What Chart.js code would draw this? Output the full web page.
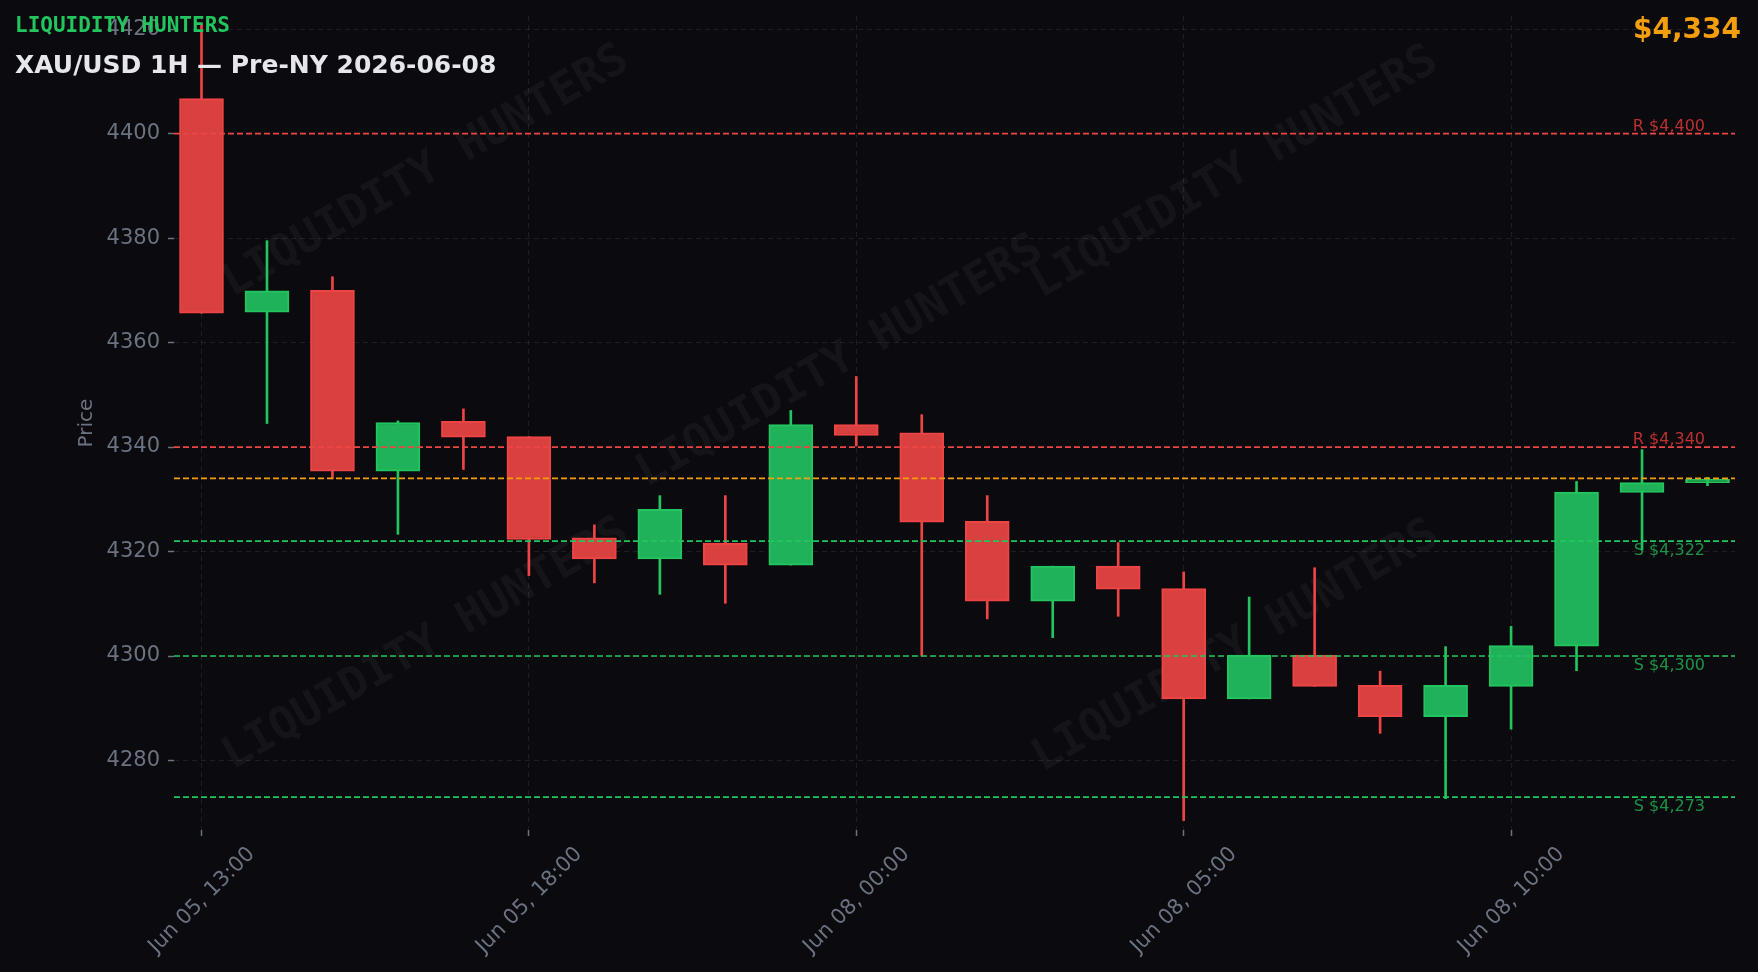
<!DOCTYPE html>
<html>
<head>
<meta charset="utf-8">
<title>XAU/USD 1H — Pre-NY 2026-06-08</title>
<script src="https://cdn.jsdelivr.net/npm/chart.js@4.4.1/dist/chart.umd.min.js"></script>
<style>
  html, body { margin: 0; padding: 0; background: #0a0a0f; overflow: hidden; }
  #wrap { position: relative; width: 1758px; height: 972px; }
  #wrap canvas { position: absolute; left: 0; top: 0; }
  .overlay { position: absolute; white-space: nowrap; font-weight: bold; }
  #brand { left: 15px; top: 15px; font: bold 21px/21px 'DejaVu Sans Mono', monospace; color: #22c55e; }
  #title { left: 15px; top: 52px; font: bold 25px/25px 'DejaVu Sans', sans-serif; color: #e5e7eb; }
  #price { right: 17px; top: 15px; font: bold 28px/28px 'DejaVu Sans', sans-serif; color: #f59e0b; }
</style>
</head>
<body>
<div id="wrap">
  <canvas id="chart" width="1758" height="972"></canvas>
  <div class="overlay" id="brand">LIQUIDITY HUNTERS</div>
  <div class="overlay" id="title">XAU/USD 1H — Pre-NY 2026-06-08</div>
  <div class="overlay" id="price">$4,334</div>
</div>
<script>
'use strict';

// ------- Data ------- //
const times = [
  '2026-06-05T13:00', '2026-06-05T14:00', '2026-06-05T15:00', '2026-06-05T16:00',
  '2026-06-05T17:00', '2026-06-05T18:00', '2026-06-05T19:00', '2026-06-05T20:00',
  '2026-06-05T21:00', '2026-06-07T23:00', '2026-06-08T00:00', '2026-06-08T01:00',
  '2026-06-08T02:00', '2026-06-08T03:00', '2026-06-08T04:00', '2026-06-08T05:00',
  '2026-06-08T06:00', '2026-06-08T07:00', '2026-06-08T08:00', '2026-06-08T09:00',
  '2026-06-08T10:00', '2026-06-08T11:00', '2026-06-08T12:00', '2026-06-08T13:00',
];
const opens = [
  4406.7, 4365.8, 4370.0, 4335.4, 4344.9, 4342.0, 4322.6, 4318.6,
  4321.6, 4317.4, 4344.3, 4342.7, 4325.8, 4310.5, 4317.2, 4312.9,
  4291.8, 4300.2, 4294.4, 4288.4, 4294.2, 4301.9, 4331.3, 4333.2,
];
const highs = [
  4421.0, 4379.5, 4372.6, 4345.0, 4347.3, 4342.0, 4325.1, 4330.7,
  4330.7, 4347.0, 4353.5, 4346.2, 4330.7, 4317.2, 4321.7, 4316.1,
  4311.3, 4316.9, 4297.1, 4301.8, 4305.7, 4333.4, 4339.5, 4334.2,
];
const lows = [
  4365.6, 4344.5, 4333.9, 4323.3, 4335.7, 4315.4, 4314.0, 4311.8,
  4310.1, 4317.4, 4340.2, 4300.0, 4307.1, 4303.5, 4307.6, 4268.5,
  4291.8, 4294.2, 4285.2, 4272.7, 4286.0, 4297.2, 4320.3, 4332.6,
];
const closes = [
  4365.6, 4369.9, 4335.4, 4344.7, 4341.9, 4322.3, 4318.6, 4328.1,
  4317.4, 4344.3, 4342.2, 4325.6, 4310.5, 4317.2, 4312.8, 4291.8,
  4300.2, 4294.2, 4288.4, 4294.4, 4302.0, 4331.4, 4333.2, 4333.8,
];

const resistanceLevels = [4400, 4340];
const supportLevels = [4322, 4300, 4273];
const currentPrice = 4334;

const priceTicks = [4280, 4300, 4320, 4340, 4360, 4380, 4400, 4420];
const timeTickIndexes = [0, 5, 10, 15, 20];

const months = ['Jan', 'Feb', 'Mar', 'Apr', 'May', 'Jun', 'Jul', 'Aug', 'Sep', 'Oct', 'Nov', 'Dec'];

// ------- Colours ------- //
const RED = '#ef4444';
const GREEN = '#22c55e';
const RED_FILL = '#d94040';
const GREEN_FILL = '#20b25a';
const ORANGE = '#f59e0b';
const TICK_GREY = '#6b7280';
const GRID = 'rgba(255,255,255,0.085)';

const X_MIN = -0.42;
const X_MAX = 23.42;

function formatTime(t) {
  const [day, hm] = t.split('T');
  const parts = day.split('-');
  return months[parseInt(parts[1], 10) - 1] + ' ' + parts[2] + ', ' + hm;
}

const isUp = opens.map((o, i) => closes[i] >= o);

// wicks (high-low) and bodies (open-close) as floating bars
const wickData = times.map((t, i) => ({ x: i, y: [lows[i], highs[i]] }));
const bodyData = times.map((t, i) => ({ x: i, y: [opens[i], closes[i]] }));

function levelLine(level, color, label) {
  return {
    type: 'line',
    label: label,
    data: [{ x: X_MIN, y: level }, { x: X_MAX, y: level }],
    borderColor: color,
    borderWidth: 1.7,
    borderDash: [6, 3],
    pointRadius: 0,
    order: 0,
  };
}

const levelDatasets = [
  ...resistanceLevels.map((lv) => levelLine(lv, RED, 'R')),
  levelLine(currentPrice, ORANGE, 'Current'),
  ...supportLevels.map((lv) => levelLine(lv, GREEN, 'S')),
];

// ------- Watermark + level labels ------- //
const watermarkPlugin = {
  id: 'watermark',
  beforeDatasetsDraw(chart) {
    const ctx = chart.ctx;
    const spots = [[426, 172], [840, 362], [1235, 173], [426, 645], [1236, 647]];
    ctx.save();
    ctx.beginPath();
    ctx.rect(chart.chartArea.left, chart.chartArea.top, chart.chartArea.width, chart.chartArea.height);
    ctx.clip();
    ctx.font = "bold 45px 'DejaVu Sans Mono', monospace";
    ctx.fillStyle = 'rgba(255,255,255,0.045)';
    ctx.textAlign = 'center';
    ctx.textBaseline = 'middle';
    spots.forEach(([x, y]) => {
      ctx.save();
      ctx.translate(x, y);
      ctx.rotate(-Math.PI / 6);
      ctx.fillText('LIQUIDITY HUNTERS', 0, 0);
      ctx.restore();
    });
    ctx.restore();
  },
};

const levelLabelPlugin = {
  id: 'levelLabels',
  afterDatasetsDraw(chart) {
    const ctx = chart.ctx;
    const yScale = chart.scales.y;
    const x = chart.chartArea.right - 30;
    ctx.save();
    ctx.font = "16px 'DejaVu Sans', sans-serif";
    ctx.textAlign = 'right';
    resistanceLevels.forEach((lv) => {
      ctx.fillStyle = 'rgba(220,55,55,0.85)';
      ctx.textBaseline = 'bottom';
      ctx.fillText('R $' + lv.toLocaleString('en-US'), x, yScale.getPixelForValue(lv) + 1);
    });
    supportLevels.forEach((lv) => {
      ctx.fillStyle = 'rgba(34,180,85,0.8)';
      ctx.textBaseline = 'top';
      ctx.fillText('S $' + lv.toLocaleString('en-US'), x, yScale.getPixelForValue(lv) + 2);
    });
    ctx.restore();
  },
};

Chart.defaults.font.family = "'DejaVu Sans', sans-serif";

new Chart(document.getElementById('chart'), {
  data: {
    datasets: [
      ...levelDatasets,
      {
        type: 'bar',
        label: 'Body',
        data: bodyData,
        backgroundColor: isUp.map((u) => (u ? GREEN_FILL : RED_FILL)),
        borderColor: isUp.map((u) => (u ? GREEN : RED)),
        borderWidth: 2,
        borderSkipped: false,
        barThickness: 44,
        grouped: false,
        order: 1,
      },
      {
        type: 'bar',
        label: 'Wick',
        data: wickData,
        backgroundColor: isUp.map((u) => (u ? GREEN : RED)),
        borderWidth: 0,
        barThickness: 2,
        grouped: false,
        order: 2,
      },
    ],
  },
  options: {
    responsive: false,
    animation: false,
    layout: {
      padding: { left: 0, right: 23, top: 16, bottom: 0 },
    },
    scales: {
      x: {
        type: 'linear',
        min: X_MIN,
        max: X_MAX,
        offset: false,
        afterBuildTicks: (scale) => {
          scale.ticks = timeTickIndexes.map((v) => ({ value: v }));
        },
        afterFit: (scale) => {
          scale.height = 142;
          scale.paddingLeft = 0;
          scale.paddingRight = 0;
        },
        grid: {
          offset: false,
          color: GRID,
          tickColor: TICK_GREY,
          tickLength: 6,
          tickWidth: 1.5,
        },
        border: { display: false, dash: [5, 4] },
        ticks: {
          autoSkip: false,
          maxRotation: 45,
          minRotation: 45,
          padding: 6,
          labelOffset: 50,
          color: TICK_GREY,
          font: { size: 21 },
          callback: (value) => formatTime(times[value]),
        },
      },
      y: {
        min: 4266.7,
        max: 4422.5,
        afterBuildTicks: (scale) => {
          scale.ticks = priceTicks.map((v) => ({ value: v }));
        },
        afterFit: (scale) => {
          scale.width = 174;
          scale.paddingTop = 0;
          scale.paddingBottom = 0;
        },
        grid: {
          color: GRID,
          tickColor: TICK_GREY,
          tickLength: 6,
          tickWidth: 1.5,
        },
        border: { display: false, dash: [5, 4] },
        ticks: {
          padding: 8,
          color: TICK_GREY,
          font: { size: 21 },
          callback: (value) => String(value),
        },
        title: {
          display: true,
          text: 'Price',
          color: TICK_GREY,
          font: { size: 20 },
          padding: { top: 75, bottom: 0 },
        },
      },
    },
    plugins: {
      legend: { display: false },
      tooltip: { enabled: false },
    },
  },
  plugins: [watermarkPlugin, levelLabelPlugin],
});
</script>
</body>
</html>
